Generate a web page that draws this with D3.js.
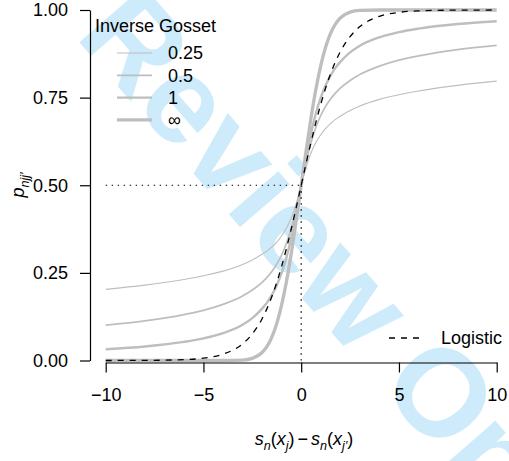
<!DOCTYPE html>
<html>
<head>
<meta charset="utf-8">
<script src="https://cdn.jsdelivr.net/npm/d3@7"></script>
<style>
  html, body { margin: 0; padding: 0; background: #fff; }
  svg { display: block; font-family: "Liberation Sans", Arial, Helvetica, sans-serif; }
</style>
</head>
<body>
<svg id="chart" width="509" height="461"></svg>
<script>
// Difference in latent scores (x) where each link function is evaluated
const xValues = [-10, -8, -6, -5, -4, -3, -2.5, -2, -1.75, -1.5, -1.25, -1, -0.75, -0.5, -0.25, 0,
                 0.25, 0.5, 0.75, 1, 1.25, 1.5, 1.75, 2, 2.5, 3, 4, 5, 6, 8, 10];

// Inverse Gosset link, nu = 0.25
const gosset025 = [0.203, 0.215, 0.231, 0.242, 0.255, 0.274, 0.287, 0.303, 0.312, 0.324, 0.338, 0.356, 0.378, 0.408, 0.449, 0.5,
                   0.551, 0.592, 0.622, 0.644, 0.662, 0.676, 0.688, 0.697, 0.713, 0.726, 0.745, 0.758, 0.769, 0.785, 0.797];
// Inverse Gosset link, nu = 0.5
const gosset05 = [0.101, 0.113, 0.131, 0.143, 0.160, 0.184, 0.201, 0.223, 0.237, 0.254, 0.275, 0.301, 0.335, 0.379, 0.435, 0.5,
                  0.565, 0.621, 0.665, 0.699, 0.725, 0.746, 0.763, 0.777, 0.799, 0.816, 0.840, 0.857, 0.869, 0.887, 0.899];
// Inverse Gosset link, nu = 1
const gosset1 = [0.032, 0.040, 0.053, 0.063, 0.078, 0.102, 0.121, 0.148, 0.165, 0.187, 0.215, 0.250, 0.295, 0.352, 0.422, 0.5,
                 0.578, 0.648, 0.705, 0.750, 0.785, 0.813, 0.835, 0.852, 0.879, 0.898, 0.922, 0.937, 0.947, 0.960, 0.968];
// Inverse Gosset link, nu = infinity
const gossetInf = [0, 0, 0, 0, 0.00003, 0.0013, 0.0062, 0.0228, 0.0401, 0.0668, 0.1056, 0.1587, 0.2266, 0.3085, 0.4013, 0.5,
                   0.5987, 0.6915, 0.7734, 0.8413, 0.8944, 0.9332, 0.9599, 0.9772, 0.9938, 0.9987, 0.99997, 1, 1, 1, 1];
// Logistic link
const logistic = [0.00005, 0.0003, 0.0025, 0.0067, 0.018, 0.0474, 0.0759, 0.1192, 0.148, 0.1824, 0.2227, 0.2689, 0.3208, 0.3775, 0.4378, 0.5,
                  0.5622, 0.6225, 0.6792, 0.7311, 0.7773, 0.8176, 0.852, 0.8808, 0.9241, 0.9526, 0.982, 0.9933, 0.9975, 0.9997, 0.99995];

const gossetLabels = ["0.25", "0.5", "1", "\u221E"];
const gossetSeries = [gosset025, gosset05, gosset1, gossetInf];
const gossetWidths = [1.1, 1.7, 2.4, 3.3];

const xTicks = [-10, -5, 0, 5, 10];
const xTickLabels = ["\u221210", "\u22125", "0", "5", "10"];
const yTicks = [0, 0.25, 0.5, 0.75, 1];
const yTickLabels = ["0.00", "0.25", "0.50", "0.75", "1.00"];

const svg = d3.select("#chart");
const FS = 18;

const x = d3.scaleLinear().domain([-10, 10]).range([105.7, 496.7]);
const y = d3.scaleLinear().domain([0, 1]).range([360.5, 10]);

// Watermark, behind everything else
svg.append("text")
  .attr("transform", "translate(74,36) rotate(49)")
  .attr("font-size", 124)
  .attr("font-weight", "bold")
  .attr("fill", "#cdebfa")
  .text("Review Only");

// Link curves
const line = d3.line()
  .x(d => x(d[0]))
  .y(d => y(d[1]))
  .curve(d3.curveMonotoneX);

gossetSeries.forEach((vals, i) => {
  svg.append("path")
    .datum(xValues.map((xv, k) => [xv, vals[k]]))
    .attr("d", line)
    .attr("fill", "none")
    .attr("stroke", "#bebebe")
    .attr("stroke-width", gossetWidths[i]);
});

svg.append("path")
  .datum(xValues.map((xv, k) => [xv, logistic[k]]))
  .attr("d", line)
  .attr("fill", "none")
  .attr("stroke", "#000")
  .attr("stroke-width", 1.3)
  .attr("stroke-dasharray", "6,6");

// Reference lines at x = 0, p = 0.5
svg.append("line")
  .attr("x1", x(-10)).attr("x2", x(0))
  .attr("y1", y(0.5)).attr("y2", y(0.5))
  .attr("stroke", "#000").attr("stroke-width", 1.2)
  .attr("stroke-dasharray", "1.4,4.6");
svg.append("line")
  .attr("x1", x(0)).attr("x2", x(0))
  .attr("y1", y(0.5)).attr("y2", y(0))
  .attr("stroke", "#000").attr("stroke-width", 1.2)
  .attr("stroke-dasharray", "1.4,4.6");

// Axes
const yAxis = d3.axisLeft(y)
  .tickValues(yTicks)
  .tickFormat((d, i) => yTickLabels[i])
  .tickSize(10)
  .tickSizeOuter(0)
  .tickPadding(12);
const gy = svg.append("g").attr("transform", "translate(90,0)").call(yAxis);
gy.selectAll("text").attr("font-size", FS).attr("font-family", null).attr("fill", "#000");
gy.selectAll("line,path").attr("stroke", "#000").attr("stroke-width", 1.2);

const xAxis = d3.axisBottom(x)
  .tickValues(xTicks)
  .tickFormat((d, i) => xTickLabels[i])
  .tickSize(10)
  .tickSizeOuter(0)
  .tickPadding(16);
const gx = svg.append("g").attr("transform", "translate(0,362.5)").call(xAxis);
gx.selectAll("text").attr("font-size", FS).attr("font-family", null).attr("fill", "#000");
gx.selectAll("line,path").attr("stroke", "#000").attr("stroke-width", 1.2);

// Axis titles
const xt = svg.append("text")
  .attr("x", 304).attr("y", 445)
  .attr("text-anchor", "middle")
  .attr("font-size", FS);
const sub = FS * 0.7, drop = 4.5;
function part(sel, txt, italic, size, dy, dx) {
  const t = sel.append("tspan").text(txt);
  if (italic) t.attr("font-style", "italic");
  if (size) t.attr("font-size", size);
  if (dy) t.attr("dy", dy);
  if (dx) t.attr("dx", dx);
  return t;
}
part(xt, "s", true);
part(xt, "n", true, sub, drop);
part(xt, "(", false, null, -drop);
part(xt, "x", true);
part(xt, "j", true, sub, drop);
part(xt, ")", false, null, -drop);
part(xt, "\u2212", false, null, null, 3);
part(xt, "s", true, null, null, 3);
part(xt, "n", true, sub, drop);
part(xt, "(", false, null, -drop);
part(xt, "x", true);
part(xt, "j\u2032", true, sub, drop);
part(xt, ")", false, null, -drop);

const yt = svg.append("text")
  .attr("transform", "translate(24,185) rotate(-90)")
  .attr("text-anchor", "middle")
  .attr("font-size", FS);
part(yt, "p", true);
part(yt, "njj\u2032", true, sub, drop);

// Legend: Inverse Gosset
svg.append("text")
  .attr("x", 95).attr("y", 32)
  .attr("font-size", FS)
  .text("Inverse Gosset");

const rowY = [53, 75.3, 97.6, 119.9];
gossetLabels.forEach((lab, i) => {
  svg.append("line")
    .attr("x1", 117).attr("x2", 152)
    .attr("y1", rowY[i]).attr("y2", rowY[i])
    .attr("stroke", "#bebebe")
    .attr("stroke-width", gossetWidths[i]);
  svg.append("text")
    .attr("x", 168).attr("y", rowY[i])
    .attr("dy", "0.36em")
    .attr("font-size", FS)
    .text(lab);
});

// Legend: Logistic
svg.append("line")
  .attr("x1", 389).attr("x2", 421)
  .attr("y1", 338).attr("y2", 338)
  .attr("stroke", "#000").attr("stroke-width", 1.3)
  .attr("stroke-dasharray", "6,6");
svg.append("text")
  .attr("x", 441).attr("y", 338)
  .attr("dy", "0.36em")
  .attr("font-size", FS)
  .text("Logistic");
</script>
</body>
</html>
